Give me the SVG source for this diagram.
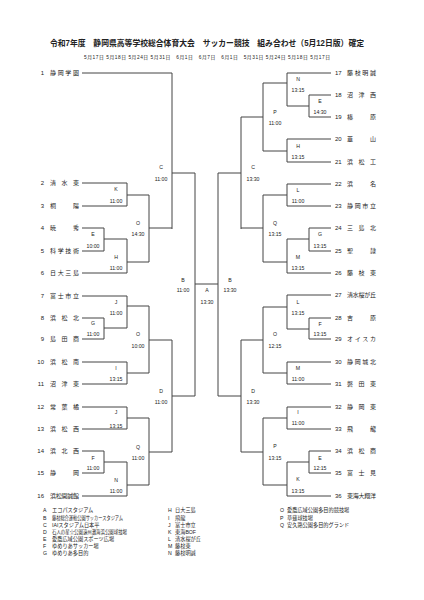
<svg xmlns="http://www.w3.org/2000/svg" width="424" height="600" viewBox="0 0 424 600">
<style>
text{font-family:"Liberation Sans","Noto Sans CJK JP",sans-serif;fill:#222}
.t{font-size:8.5px;font-weight:bold}
.d{font-size:4.8px}
.n{font-size:6px}
.nm{font-size:6px}
.l{font-size:5.2px;text-anchor:middle}
.g{font-size:5.2px}
.ln{fill:none;stroke:#444;stroke-width:1}
</style>
<rect width="424" height="600" fill="#fff"/>
<text class="t" x="50" y="46" textLength="314" lengthAdjust="spacingAndGlyphs">令和7年度　静岡県高等学校総合体育大会　サッカー競技　組み合わせ（5月12日版）確定</text>
<text class="d" x="84" y="58.5" textLength="246" lengthAdjust="spacing">5月17日 5月18日 5月24日 5月31日　6月1日　6月7日　6月1日　5月31日 5月24日 5月18日 5月17日</text>

<g id="connectors" class="ln">
<path d="M82,73H172M82,183H127M82,206H127M82,228H104M82,251H104M82,273H127M82,296H127M82,318H104M82,339H104M82,362H127M82,384H127M82,407H127M82,429H127M82,451H104M82,473H104M82,496H127"/>
<path d="M127,183V206M127,195H149M104,228V251M104,239H127M127,239V273M127,262H149M149,195V262M149,228H172M172,73V229M172,173H195"/>
<path d="M127,296V328M127,306H149M104,318V339M104,328H127M127,362V384M127,373H149M149,306V373M149,340H172M127,407V429M127,418H149M104,451V473M104,462H127M127,462V496M127,485H149M149,418V485M149,452H172M172,340V452M172,396H195M195,173V396M195,284H218"/>
<path d="M331,73H287M331,95H309M331,117H309M331,139H287M331,162H287M331,184H287M331,206H287M331,228H309M331,251H309M331,273H287M331,295H287M331,318H309M331,339H309M331,362H287M331,384H287M331,407H287M331,429H287M331,451H309M331,473H309M331,496H287"/>
<path d="M309,95V117M287,106H309M287,73V106M263,83H287M287,139V162M263,151H287M263,83V151M241,117H263M287,184V206M263,195H287M309,228V251M287,239H309M287,239V273M263,262H287M263,195V262M241,228H263M241,117V229M218,173H241"/>
<path d="M287,295V329M263,307H287M309,318V339M287,329H309M287,362V384M263,373H287M263,307V373M241,340H263M287,407V429M263,418H287M309,451V473M287,462H309M287,462V496M263,485H287M263,418V485M241,452H263M241,340V452M218,396H241M218,173V396"/>
</g>

<g id="left-teams">
<g id="t1"><text class="n" x="44" y="75" text-anchor="end">1</text><text class="nm" x="50" y="75" textLength="29" lengthAdjust="spacing">静岡学園</text></g>
<g id="t2"><text class="n" x="44" y="185" text-anchor="end">2</text><text class="nm" x="50" y="185" textLength="29" lengthAdjust="spacing">清水東</text></g>
<g id="t3"><text class="n" x="44" y="208" text-anchor="end">3</text><text class="nm" x="50" y="208" textLength="29" lengthAdjust="spacing">桐陽</text></g>
<g id="t4"><text class="n" x="44" y="230" text-anchor="end">4</text><text class="nm" x="50" y="230" textLength="29" lengthAdjust="spacing">暁秀</text></g>
<g id="t5"><text class="n" x="44" y="253" text-anchor="end">5</text><text class="nm" x="50" y="253" textLength="29" lengthAdjust="spacing">科学技術</text></g>
<g id="t6"><text class="n" x="44" y="275" text-anchor="end">6</text><text class="nm" x="50" y="275" textLength="29" lengthAdjust="spacing">日大三島</text></g>
<g id="t7"><text class="n" x="44" y="298" text-anchor="end">7</text><text class="nm" x="50" y="298" textLength="29" lengthAdjust="spacing">富士市立</text></g>
<g id="t8"><text class="n" x="44" y="320" text-anchor="end">8</text><text class="nm" x="50" y="320" textLength="29" lengthAdjust="spacing">浜松北</text></g>
<g id="t9"><text class="n" x="44" y="341" text-anchor="end">9</text><text class="nm" x="50" y="341" textLength="29" lengthAdjust="spacing">島田商</text></g>
<g id="t10"><text class="n" x="44" y="364" text-anchor="end">10</text><text class="nm" x="50" y="364" textLength="29" lengthAdjust="spacing">浜松南</text></g>
<g id="t11"><text class="n" x="44" y="386" text-anchor="end">11</text><text class="nm" x="50" y="386" textLength="29" lengthAdjust="spacing">沼津東</text></g>
<g id="t12"><text class="n" x="44" y="409" text-anchor="end">12</text><text class="nm" x="50" y="409" textLength="29" lengthAdjust="spacing">常葉橘</text></g>
<g id="t13"><text class="n" x="44" y="431" text-anchor="end">13</text><text class="nm" x="50" y="431" textLength="29" lengthAdjust="spacing">浜松西</text></g>
<g id="t14"><text class="n" x="44" y="453" text-anchor="end">14</text><text class="nm" x="50" y="453" textLength="29" lengthAdjust="spacing">浜北西</text></g>
<g id="t15"><text class="n" x="44" y="475" text-anchor="end">15</text><text class="nm" x="50" y="475" textLength="29" lengthAdjust="spacing">静岡</text></g>
<g id="t16"><text class="n" x="44" y="498" text-anchor="end">16</text><text class="nm" x="50" y="498" textLength="29" lengthAdjust="spacing">浜松開誠館</text></g>
</g>

<g id="right-teams">
<g id="t17"><text class="n" x="335" y="75">17</text><text class="nm" x="347" y="75" textLength="29" lengthAdjust="spacing">藤枝明誠</text></g>
<g id="t18"><text class="n" x="335" y="97">18</text><text class="nm" x="347" y="97" textLength="29" lengthAdjust="spacing">沼津西</text></g>
<g id="t19"><text class="n" x="335" y="119">19</text><text class="nm" x="347" y="119" textLength="29" lengthAdjust="spacing">榛原</text></g>
<g id="t20"><text class="n" x="335" y="141">20</text><text class="nm" x="347" y="141" textLength="29" lengthAdjust="spacing">韮山</text></g>
<g id="t21"><text class="n" x="335" y="164">21</text><text class="nm" x="347" y="164" textLength="29" lengthAdjust="spacing">浜松工</text></g>
<g id="t22"><text class="n" x="335" y="186">22</text><text class="nm" x="347" y="186" textLength="29" lengthAdjust="spacing">浜名</text></g>
<g id="t23"><text class="n" x="335" y="208">23</text><text class="nm" x="347" y="208" textLength="29" lengthAdjust="spacing">静岡市立</text></g>
<g id="t24"><text class="n" x="335" y="230">24</text><text class="nm" x="347" y="230" textLength="29" lengthAdjust="spacing">三島北</text></g>
<g id="t25"><text class="n" x="335" y="253">25</text><text class="nm" x="347" y="253" textLength="29" lengthAdjust="spacing">聖隷</text></g>
<g id="t26"><text class="n" x="335" y="275">26</text><text class="nm" x="347" y="275" textLength="29" lengthAdjust="spacing">藤枝東</text></g>
<g id="t27"><text class="n" x="335" y="297">27</text><text class="nm" x="347" y="297" textLength="29" lengthAdjust="spacing">清水桜が丘</text></g>
<g id="t28"><text class="n" x="335" y="320">28</text><text class="nm" x="347" y="320" textLength="29" lengthAdjust="spacing">吉原</text></g>
<g id="t29"><text class="n" x="335" y="341">29</text><text class="nm" x="347" y="341" textLength="29" lengthAdjust="spacing">オイスカ</text></g>
<g id="t30"><text class="n" x="335" y="364">30</text><text class="nm" x="347" y="364" textLength="29" lengthAdjust="spacing">静岡城北</text></g>
<g id="t31"><text class="n" x="335" y="386">31</text><text class="nm" x="347" y="386" textLength="29" lengthAdjust="spacing">磐田東</text></g>
<g id="t32"><text class="n" x="335" y="409">32</text><text class="nm" x="347" y="409" textLength="29" lengthAdjust="spacing">静岡東</text></g>
<g id="t33"><text class="n" x="335" y="431">33</text><text class="nm" x="347" y="431" textLength="29" lengthAdjust="spacing">飛龍</text></g>
<g id="t34"><text class="n" x="335" y="453">34</text><text class="nm" x="347" y="453" textLength="29" lengthAdjust="spacing">浜松商</text></g>
<g id="t35"><text class="n" x="335" y="475">35</text><text class="nm" x="347" y="475" textLength="29" lengthAdjust="spacing">富士見</text></g>
<g id="t36"><text class="n" x="335" y="498">36</text><text class="nm" x="347" y="498" textLength="29" lengthAdjust="spacing">東海大翔洋</text></g>
</g>

<g id="match-labels">
<g id="mK1"><text class="l" x="116" y="191">K</text><text class="l" x="116" y="203">11:00</text></g>
<g id="mE1"><text class="l" x="93" y="236">E</text><text class="l" x="93" y="248">10:00</text></g>
<g id="mH1"><text class="l" x="116" y="259">H</text><text class="l" x="116" y="270">11:00</text></g>
<g id="mO1"><text class="l" x="138" y="225">O</text><text class="l" x="138" y="236">14:30</text></g>
<g id="mC1"><text class="l" x="161" y="169">C</text><text class="l" x="161" y="181">11:00</text></g>
<g id="mJ1"><text class="l" x="116" y="304">J</text><text class="l" x="116" y="315">11:00</text></g>
<g id="mG1"><text class="l" x="93" y="325">G</text><text class="l" x="93" y="336">11:00</text></g>
<g id="mO2"><text class="l" x="138" y="336">O</text><text class="l" x="138" y="348">10:00</text></g>
<g id="mI1"><text class="l" x="116" y="370">I</text><text class="l" x="116" y="381">13:15</text></g>
<g id="mJ2"><text class="l" x="116" y="414">J</text><text class="l" x="116" y="428">13:15</text></g>
<g id="mF1"><text class="l" x="93" y="460">F</text><text class="l" x="93" y="470">11:00</text></g>
<g id="mN1"><text class="l" x="116" y="482">N</text><text class="l" x="116" y="493">11:00</text></g>
<g id="mQ1"><text class="l" x="138" y="449">Q</text><text class="l" x="138" y="460">11:00</text></g>
<g id="mD1"><text class="l" x="161" y="393">D</text><text class="l" x="161" y="404">11:00</text></g>
<g id="mB1"><text class="l" x="183" y="282">B</text><text class="l" x="183" y="292">11:00</text></g>
<g id="mA"><text class="l" x="207" y="292">A</text><text class="l" x="207" y="304">13:30</text></g>
<g id="mB2"><text class="l" x="230" y="282">B</text><text class="l" x="230" y="292">13:30</text></g>
<g id="mC2"><text class="l" x="253" y="169">C</text><text class="l" x="253" y="181">13:30</text></g>
<g id="mD2"><text class="l" x="253" y="393">D</text><text class="l" x="253" y="404">13:30</text></g>
<g id="mN2"><text class="l" x="298" y="81">N</text><text class="l" x="298" y="92">13:15</text></g>
<g id="mE2"><text class="l" x="320" y="103">E</text><text class="l" x="320" y="114">14:30</text></g>
<g id="mP1"><text class="l" x="275" y="114">P</text><text class="l" x="275" y="125">11:00</text></g>
<g id="mH2"><text class="l" x="298" y="148">H</text><text class="l" x="298" y="159">13:15</text></g>
<g id="mL1"><text class="l" x="298" y="192">L</text><text class="l" x="298" y="203">11:00</text></g>
<g id="mQ2"><text class="l" x="275" y="225">Q</text><text class="l" x="275" y="236">13:15</text></g>
<g id="mG2"><text class="l" x="320" y="236">G</text><text class="l" x="320" y="248">13:15</text></g>
<g id="mM1"><text class="l" x="298" y="259">M</text><text class="l" x="298" y="270">13:15</text></g>
<g id="mL2"><text class="l" x="298" y="304">L</text><text class="l" x="298" y="315">13:15</text></g>
<g id="mF2"><text class="l" x="320" y="326">F</text><text class="l" x="320" y="336">13:15</text></g>
<g id="mO3"><text class="l" x="275" y="336">O</text><text class="l" x="275" y="348">12:15</text></g>
<g id="mM2"><text class="l" x="298" y="370">M</text><text class="l" x="298" y="381">11:00</text></g>
<g id="mI2"><text class="l" x="298" y="414">I</text><text class="l" x="298" y="425">11:00</text></g>
<g id="mP2"><text class="l" x="275" y="448">P</text><text class="l" x="275" y="460">13:15</text></g>
<g id="mE3"><text class="l" x="320" y="460">E</text><text class="l" x="320" y="470">12:15</text></g>
<g id="mK2"><text class="l" x="298" y="481">K</text><text class="l" x="298" y="493">13:15</text></g>
</g>

<g id="legend">
<text class="g" x="43" y="512">A</text><text class="g" x="52" y="512">エコパスタジアム</text>
<text class="g" x="43" y="519.5">B</text><text class="g" x="52" y="519.5" textLength="71" lengthAdjust="spacingAndGlyphs">藤枝総合運動公園サッカースタジアム</text>
<text class="g" x="43" y="527">C</text><text class="g" x="52" y="527">IAIスタジアム日本平</text>
<text class="g" x="43" y="534">D</text><text class="g" x="52" y="534" textLength="75" lengthAdjust="spacingAndGlyphs">石人の星☆公園遠州灘海浜公園球技場</text>
<text class="g" x="43" y="541">E</text><text class="g" x="52" y="541">愛鷹広域公園スポーツ広場</text>
<text class="g" x="43" y="548">F</text><text class="g" x="52" y="548">ゆめりあサッカー場</text>
<text class="g" x="43" y="555">G</text><text class="g" x="52" y="555">ゆめりあ多目的</text>
<text class="g" x="168" y="512">H</text><text class="g" x="175" y="512">日大三島</text>
<text class="g" x="168" y="519.5">I</text><text class="g" x="175" y="519.5">飛龍</text>
<text class="g" x="168" y="527">J</text><text class="g" x="175" y="527">富士市立</text>
<text class="g" x="168" y="534">K</text><text class="g" x="175" y="534">東海BOF</text>
<text class="g" x="168" y="541">L</text><text class="g" x="175" y="541">清水桜が丘</text>
<text class="g" x="168" y="548">M</text><text class="g" x="175" y="548">藤枝東</text>
<text class="g" x="168" y="555">N</text><text class="g" x="175" y="555">藤枝明誠</text>
<text class="g" x="280" y="512">O</text><text class="g" x="287" y="512">愛鷹広域公園多目的競技場</text>
<text class="g" x="280" y="519.5">P</text><text class="g" x="287" y="519.5">草薙球技場</text>
<text class="g" x="280" y="527">Q</text><text class="g" x="287" y="527">安久路公園多目的グランド</text>
</g>
</svg>
